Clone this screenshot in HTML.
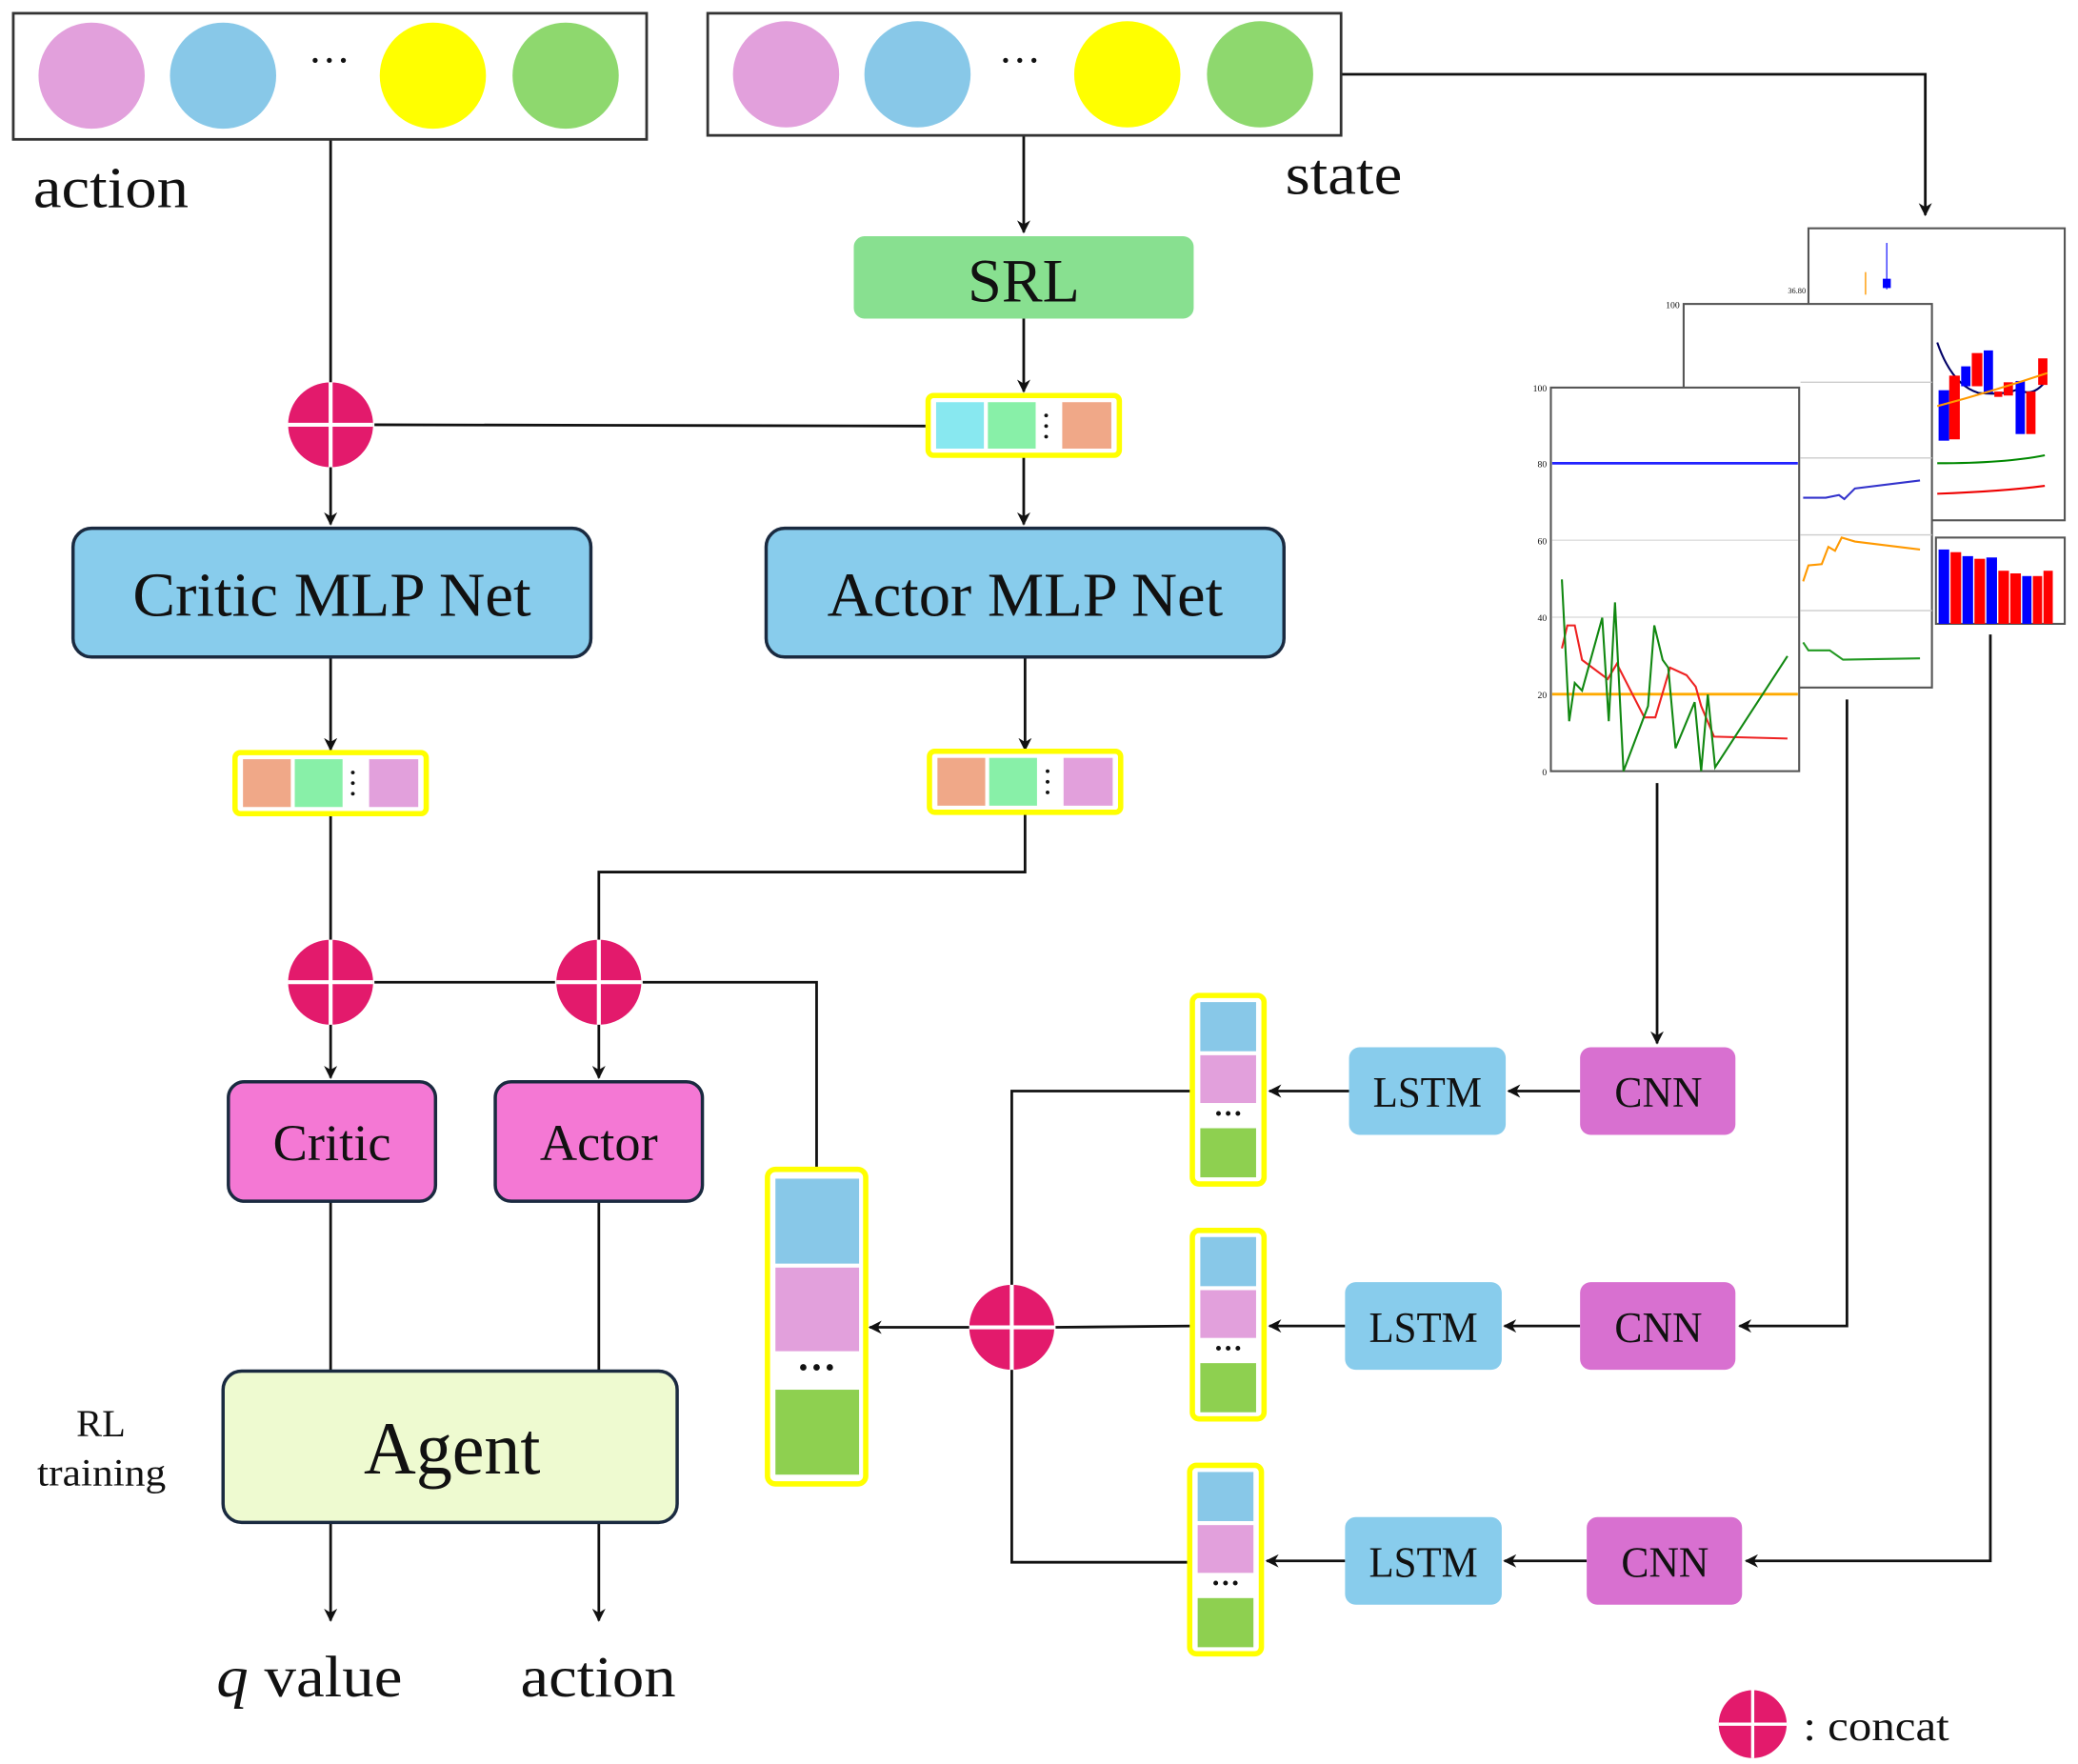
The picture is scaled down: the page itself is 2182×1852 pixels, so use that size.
<!DOCTYPE html>
<html><head><meta charset="utf-8"><style>
html,body{margin:0;padding:0;background:#fff;}
svg{display:block;}
text{font-family:"Liberation Serif",serif;fill:#111;}
</style></head><body>
<svg width="2182" height="1852" viewBox="0 0 1565 1329" preserveAspectRatio="none" xmlns="http://www.w3.org/2000/svg">
<defs>
<marker id="ar" markerWidth="10" markerHeight="10" refX="9" refY="5" orient="auto" markerUnits="userSpaceOnUse">
<path d="M0,0 L10,5 L0,10 L3,5 z" fill="#111"/></marker>
<g id="cc"><circle r="32" fill="#e31a6c"/><path d="M-32,0H32M0,-32V32" stroke="#fff" stroke-width="3"/></g>
</defs>
<g stroke="#111" stroke-width="2" fill="none">
<path d="M249,105V288"/>
<path d="M1010,56H1450V162" marker-end="url(#ar)"/>
<path d="M771,102V175" marker-end="url(#ar)"/>
<path d="M771,240V295" marker-end="url(#ar)"/>
<path d="M282,320L699,321"/>
<path d="M249,352V395" marker-end="url(#ar)"/>
<path d="M771,343V395" marker-end="url(#ar)"/>
<path d="M249,495V565" marker-end="url(#ar)"/>
<path d="M772,495V565" marker-end="url(#ar)"/>
<path d="M249,613V708"/>
<path d="M772,613V657H451V708"/>
<path d="M282,740H418"/>
<path d="M484,740H615V882"/>
<path d="M249,772V812" marker-end="url(#ar)"/>
<path d="M451,772V812" marker-end="url(#ar)"/>
<path d="M249,905V1033M451,905V1033"/>
<path d="M249,1147V1221" marker-end="url(#ar)"/>
<path d="M451,1147V1221" marker-end="url(#ar)"/>
<path d="M730,1000H655" marker-end="url(#ar)"/>
<path d="M900,822H762V1177H897"/>
<path d="M795,1000L898,999"/>
<path d="M1016,822H956" marker-end="url(#ar)"/>
<path d="M1013,999H956" marker-end="url(#ar)"/>
<path d="M1013,1176H954" marker-end="url(#ar)"/>
<path d="M1190,822H1136" marker-end="url(#ar)"/>
<path d="M1190,999H1133" marker-end="url(#ar)"/>
<path d="M1195,1176H1133" marker-end="url(#ar)"/>
<path d="M1248,590V786" marker-end="url(#ar)"/>
<path d="M1391,527V999H1310" marker-end="url(#ar)"/>
<path d="M1499,478V1176H1315" marker-end="url(#ar)"/>
</g>
<rect x="10" y="10" width="477" height="95" fill="#fff" stroke="#333" stroke-width="2"/>
<circle cx="69" cy="57" r="40" fill="#e2a0dc"/><circle cx="168" cy="57" r="40" fill="#88c8e8"/>
<circle cx="326" cy="57" r="40" fill="#ffff00"/><circle cx="426" cy="57" r="40" fill="#8ed86e"/>
<text x="248" y="56" font-size="32" text-anchor="middle">···</text>
<rect x="533" y="10" width="477" height="92" fill="#fff" stroke="#333" stroke-width="2"/>
<circle cx="592" cy="56" r="40" fill="#e2a0dc"/><circle cx="691" cy="56" r="40" fill="#88c8e8"/>
<circle cx="849" cy="56" r="40" fill="#ffff00"/><circle cx="949" cy="56" r="40" fill="#8ed86e"/>
<text x="768" y="56" font-size="32" text-anchor="middle">···</text>
<text x="25" y="156" font-size="44" textLength="117" lengthAdjust="spacingAndGlyphs">action</text>
<text x="968" y="146" font-size="44" textLength="88" lengthAdjust="spacingAndGlyphs">state</text>
<rect x="643" y="178" width="256" height="62" rx="8" fill="#88e090"/>
<text x="771" y="227" font-size="46" text-anchor="middle">SRL</text>
<g>
<rect x="699" y="298" width="144" height="45" rx="4" fill="#fff" stroke="#ffff00" stroke-width="4"/>
<rect x="705" y="303" width="36" height="35" fill="#88e8f0"/><rect x="744" y="303" width="36" height="35" fill="#88f0a8"/>
<rect x="800" y="303" width="37" height="35" fill="#f0a888"/>
<text x="789" y="330" font-size="24" text-anchor="middle" transform="rotate(90 789 321)">···</text>
</g>
<g>
<rect x="177" y="567" width="144" height="46" rx="4" fill="#fff" stroke="#ffff00" stroke-width="4"/>
<rect x="183" y="572" width="36" height="36" fill="#f0a888"/><rect x="222" y="572" width="36" height="36" fill="#88f0a8"/>
<rect x="278" y="572" width="37" height="36" fill="#e2a0dc"/>
<text x="267" y="599" font-size="24" text-anchor="middle" transform="rotate(90 267 590)">···</text>
</g>
<g>
<rect x="700" y="566" width="144" height="46" rx="4" fill="#fff" stroke="#ffff00" stroke-width="4"/>
<rect x="706" y="571" width="36" height="36" fill="#f0a888"/><rect x="745" y="571" width="36" height="36" fill="#88f0a8"/>
<rect x="801" y="571" width="37" height="36" fill="#e2a0dc"/>
<text x="790" y="598" font-size="24" text-anchor="middle" transform="rotate(90 790 589)">···</text>
</g>
<rect x="55" y="398" width="390" height="97" rx="14" fill="#88ccec" stroke="#1a2a40" stroke-width="2.5"/>
<text x="100" y="464" font-size="47" textLength="300" lengthAdjust="spacingAndGlyphs">Critic MLP Net</text>
<rect x="577" y="398" width="390" height="97" rx="14" fill="#88ccec" stroke="#1a2a40" stroke-width="2.5"/>
<text x="623" y="464" font-size="47" textLength="298" lengthAdjust="spacingAndGlyphs">Actor MLP Net</text>
<rect x="172" y="815" width="156" height="90" rx="12" fill="#f478d4" stroke="#1a2a40" stroke-width="2.5"/>
<text x="250" y="874" font-size="39" text-anchor="middle">Critic</text>
<rect x="373" y="815" width="156" height="90" rx="12" fill="#f478d4" stroke="#1a2a40" stroke-width="2.5"/>
<text x="451" y="874" font-size="39" text-anchor="middle">Actor</text>
<rect x="168" y="1033" width="342" height="114" rx="14" fill="#eefad0" stroke="#1a2a40" stroke-width="2.5"/>
<text x="274" y="1110" font-size="56" textLength="133" lengthAdjust="spacingAndGlyphs">Agent</text>
<text x="76" y="1082" font-size="29" text-anchor="middle">RL</text>
<text x="28" y="1119" font-size="29" textLength="97" lengthAdjust="spacingAndGlyphs">training</text>
<text x="163" y="1278" font-size="44" textLength="140" lengthAdjust="spacingAndGlyphs"><tspan font-style="italic">q</tspan> value</text>
<text x="392" y="1278" font-size="44" textLength="117" lengthAdjust="spacingAndGlyphs">action</text>
<use href="#cc" x="249" y="320"/><use href="#cc" x="249" y="740"/><use href="#cc" x="451" y="740"/>
<use href="#cc" x="762" y="1000"/>
<g transform="translate(1320,1299) scale(0.8)"><use href="#cc"/></g>
<text x="1358" y="1311" font-size="32" textLength="110" lengthAdjust="spacingAndGlyphs">: concat</text>
<rect x="578" y="881" width="74" height="237" rx="6" fill="#fff" stroke="#ffff00" stroke-width="4"/>
<rect x="584" y="888" width="63" height="64" fill="#88c8e8"/><rect x="584" y="955" width="63" height="63" fill="#e2a0dc"/>
<text x="615" y="1040" font-size="30" text-anchor="middle" font-weight="bold">···</text>
<rect x="584" y="1047" width="63" height="64" fill="#8ed050"/>
<g id="vv">
<rect x="898" y="750" width="54" height="142" rx="5" fill="#fff" stroke="#ffff00" stroke-width="4"/>
<rect x="904" y="755" width="42" height="37" fill="#88c8e8"/><rect x="904" y="795" width="42" height="36" fill="#e2a0dc"/>
<text x="925" y="846" font-size="22" text-anchor="middle" font-weight="bold">···</text>
<rect x="904" y="850" width="42" height="37" fill="#8ed050"/>
</g>
<use href="#vv" x="0" y="177"/>
<use href="#vv" x="-2" y="354"/>
<g>
<rect x="1016" y="789" width="118" height="66" rx="8" fill="#88ccec"/><text x="1034" y="834" font-size="33" textLength="82" lengthAdjust="spacingAndGlyphs">LSTM</text>
<rect x="1013" y="966" width="118" height="66" rx="8" fill="#88ccec"/><text x="1031" y="1011" font-size="33" textLength="82" lengthAdjust="spacingAndGlyphs">LSTM</text>
<rect x="1013" y="1143" width="118" height="66" rx="8" fill="#88ccec"/><text x="1031" y="1188" font-size="33" textLength="82" lengthAdjust="spacingAndGlyphs">LSTM</text>
<rect x="1190" y="789" width="117" height="66" rx="8" fill="#d870d0"/><text x="1216" y="834" font-size="33" textLength="66" lengthAdjust="spacingAndGlyphs">CNN</text>
<rect x="1190" y="966" width="117" height="66" rx="8" fill="#d870d0"/><text x="1216" y="1011" font-size="33" textLength="66" lengthAdjust="spacingAndGlyphs">CNN</text>
<rect x="1195" y="1143" width="117" height="66" rx="8" fill="#d870d0"/><text x="1221" y="1188" font-size="33" textLength="66" lengthAdjust="spacingAndGlyphs">CNN</text>
</g>
<rect x="1362" y="172" width="193" height="220" fill="#fff" stroke="#555" stroke-width="1.5"/>
<text x="1360" y="221" font-size="6" text-anchor="end">36.80</text>
<line x1="1421" y1="183" x2="1421" y2="218" stroke="#33f" stroke-width="1"/>
<rect x="1418" y="210" width="6" height="7" fill="#00f"/>
<line x1="1405" y1="205" x2="1405" y2="222" stroke="#f90" stroke-width="1"/>
<g>
<path d="M1459,258 Q1470,290 1490,296 Q1510,298 1520,293 Q1530,300 1540,288" stroke="#006" stroke-width="1.5" fill="none"/>
<rect x="1460" y="294" width="8" height="38" fill="#00f"/><rect x="1468" y="283" width="8" height="48" fill="#f00"/>
<rect x="1477" y="276" width="7" height="15" fill="#00f"/><rect x="1485" y="266" width="8" height="25" fill="#f00"/>
<rect x="1494" y="264" width="7" height="32" fill="#00f"/><rect x="1502" y="295" width="6" height="4" fill="#f00"/>
<rect x="1509" y="288" width="7" height="10" fill="#f00"/><rect x="1518" y="287" width="7" height="40" fill="#00f"/>
<rect x="1526" y="295" width="7" height="32" fill="#f00"/><rect x="1535" y="270" width="7" height="20" fill="#f00"/>
<path d="M1459,306 Q1500,295 1542,281" stroke="#f90" stroke-width="1.5" fill="none"/>
<path d="M1459,349 Q1510,349 1540,343" stroke="#080" stroke-width="1.5" fill="none"/>
<path d="M1459,372 Q1510,370 1540,366" stroke="#e00" stroke-width="1.5" fill="none"/>
</g>
<rect x="1458" y="405" width="97" height="65" fill="#fff" stroke="#555" stroke-width="1.5"/>
<g>
<rect x="1460" y="414" width="8" height="56" fill="#00f"/><rect x="1469" y="416" width="8" height="54" fill="#f00"/>
<rect x="1478" y="419" width="8" height="51" fill="#00f"/><rect x="1487" y="421" width="8" height="49" fill="#f00"/>
<rect x="1496" y="420" width="8" height="50" fill="#00f"/><rect x="1505" y="430" width="8" height="40" fill="#f00"/>
<rect x="1514" y="432" width="8" height="38" fill="#f00"/><rect x="1523" y="434" width="7" height="36" fill="#00f"/>
<rect x="1531" y="434" width="7" height="36" fill="#f00"/><rect x="1539" y="430" width="7" height="40" fill="#f00"/>
</g>
<rect x="1268" y="229" width="187" height="289" fill="#fff" stroke="#555" stroke-width="1.5"/>
<text x="1265" y="232" font-size="7" text-anchor="end">100</text>
<g stroke="#ccc" stroke-width="1"><path d="M1356,288H1455M1356,345H1455M1356,403H1455M1356,460H1455"/></g>
<path d="M1358,375 L1375,375 L1385,373 L1389,376 L1397,368 L1446,362" stroke="#33c" stroke-width="1.5" fill="none"/>
<path d="M1358,438 L1362,426 L1372,425 L1377,412 L1382,415 L1387,405 L1397,408 L1446,414" stroke="#f90" stroke-width="1.5" fill="none"/>
<path d="M1358,484 L1362,490 L1378,490 L1388,497 L1446,496" stroke="#292" stroke-width="1.5" fill="none"/>
<rect x="1168" y="292" width="187" height="289" fill="#fff" stroke="#555" stroke-width="1.5"/>
<g font-size="7" text-anchor="end" fill="#333">
<text x="1165" y="295">100</text><text x="1165" y="352">80</text><text x="1165" y="410">60</text>
<text x="1165" y="468">40</text><text x="1165" y="526">20</text><text x="1165" y="584">0</text></g>
<g stroke="#ddd" stroke-width="1"><path d="M1169,407H1354M1169,465H1354"/></g>
<path d="M1169,349H1354" stroke="#22f" stroke-width="2"/>
<path d="M1169,523H1354" stroke="#fa0" stroke-width="2"/>
<polyline fill="none" stroke="#e22" stroke-width="1.5" points="1176.3,488.5 1180.4,471.2 1186,471.2 1191.5,497.2 1210.8,511.6 1217.7,500.1 1238.4,540.5 1246.7,540.5 1257.8,503 1270.2,508.7 1277.1,517.4 1281.2,531.9 1290.9,555 1346.2,556.4"/>
<polyline fill="none" stroke="#181" stroke-width="1.5" points="1176.3,436.5 1181.8,543.4 1186,514.5 1191.5,520.3 1206.7,465.4 1211.6,543.4 1216.3,453.8 1222.7,581 1241.2,531.9 1245.9,471.2 1252.2,497.2 1256.4,503 1261.9,563.7 1276.3,529 1281.2,581 1286.2,523.2 1291.7,578.1 1346.2,494.3"/>
</svg>
</body></html>
